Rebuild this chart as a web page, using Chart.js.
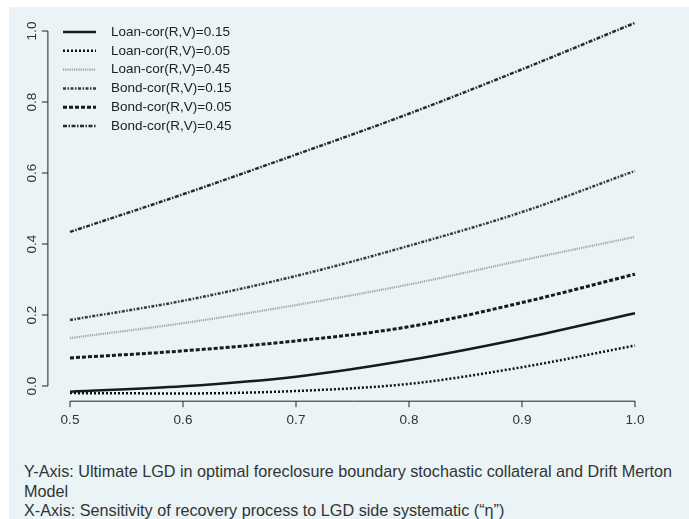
<!DOCTYPE html>
<html>
<head>
<meta charset="utf-8">
<script src="https://cdn.jsdelivr.net/npm/chart.js@4"></script>
<style>
  html, body { margin: 0; padding: 0; background: #fff; }
  #panel { position: absolute; left: 9px; top: 7px; width: 680px; height: 512px; background: #eaf3f5; }
  #wrap { position: absolute; left: 0; top: 0; width: 689px; height: 440px; }
  .cap { position: absolute; left: 24px; font-family: "Liberation Sans", Arial, sans-serif; font-size: 16.2px; line-height: 20px; color: #333; white-space: nowrap; }
</style>
</head>
<body>
<div id="panel"></div>
<div id="wrap"><canvas id="lgdChart" width="689" height="440"></canvas></div>
<div class="cap" style="top:461px">Y-Axis: Ultimate LGD in optimal foreclosure boundary stochastic collateral and Drift Merton</div>
<div class="cap" style="top:481px">Model</div>
<div class="cap" style="top:500px">X-Axis: Sensitivity of recovery process to LGD side systematic (“η”)</div>
<script>
const etaValues = [0.5, 0.6, 0.7, 0.8, 0.9, 1.0];
const seriesNames = ['Loan-cor(R,V)=0.15', 'Loan-cor(R,V)=0.05', 'Loan-cor(R,V)=0.45',
                     'Bond-cor(R,V)=0.15', 'Bond-cor(R,V)=0.05', 'Bond-cor(R,V)=0.45'];
const loan015 = [-0.016, -0.001, 0.026, 0.073, 0.134, 0.205];
const loan005 = [-0.020, -0.021, -0.014, 0.006, 0.053, 0.114];
const loan045 = [0.135, 0.177, 0.228, 0.286, 0.354, 0.420];
const bond015 = [0.186, 0.240, 0.310, 0.395, 0.490, 0.606];
const bond005 = [0.079, 0.099, 0.127, 0.167, 0.235, 0.315];
const bond045 = [0.434, 0.540, 0.652, 0.767, 0.892, 1.023];
const xTicks = [0.5, 0.6, 0.7, 0.8, 0.9, 1.0];
const yTicks = [0.0, 0.2, 0.4, 0.6, 0.8, 1.0];

const styles = [
  { color: '#1a1a1a', width: 2.5, dash: [] },
  { color: '#111111', width: 2.5, dash: [2, 2] },
  { color: '#a4a4a4', width: 2.2, dash: [1.2, 1] },
  { color: '#3a3a3a', width: 2.5, dash: [3, 1.5, 1.5, 1.5] },
  { color: '#1a1a1a', width: 3, dash: [4, 2] },
  { color: '#2a2a2a', width: 2.5, dash: [4, 1.5, 1.5, 1.5] }
];
const seriesValues = [loan015, loan005, loan045, bond015, bond005, bond045];

const fontFamily = '"Liberation Sans", Arial, sans-serif';

const datasets = seriesValues.map((vals, i) => ({
  label: seriesNames[i],
  data: etaValues.map((x, j) => ({ x: x, y: vals[j] })),
  borderColor: styles[i].color,
  borderWidth: styles[i].width,
  borderDash: styles[i].dash,
  borderCapStyle: 'butt',
  pointRadius: 0,
  fill: false,
  cubicInterpolationMode: 'monotone'
}));

// R-style axes, rotated y labels and line legend
const rAxes = {
  id: 'rAxes',
  afterDraw(chart) {
    const c = chart.ctx;
    const xs = chart.scales.x, ys = chart.scales.y;
    const area = chart.chartArea;
    c.save();
    c.strokeStyle = '#222';
    c.lineWidth = 1;
    c.fillStyle = '#333';
    c.font = '13.5px ' + fontFamily;

    // y axis
    const yx = area.left + 0.5;
    c.beginPath();
    c.moveTo(yx, ys.getPixelForValue(yTicks[0]));
    c.lineTo(yx, ys.getPixelForValue(yTicks[yTicks.length - 1]));
    yTicks.forEach(v => {
      const py = ys.getPixelForValue(v);
      c.moveTo(yx, py);
      c.lineTo(yx - 6, py);
    });
    c.stroke();
    c.textAlign = 'center';
    c.textBaseline = 'middle';
    yTicks.forEach(v => {
      const py = ys.getPixelForValue(v);
      c.save();
      c.translate(area.left - 15, py);
      c.rotate(-Math.PI / 2);
      c.fillText(v.toFixed(1), 0, 0);
      c.restore();
    });

    // x axis
    const xy = area.bottom + 0.5;
    c.beginPath();
    c.moveTo(xs.getPixelForValue(xTicks[0]), xy);
    c.lineTo(xs.getPixelForValue(xTicks[xTicks.length - 1]), xy);
    xTicks.forEach(v => {
      const px = xs.getPixelForValue(v);
      c.moveTo(px, xy);
      c.lineTo(px, xy + 6);
    });
    c.stroke();
    c.textBaseline = 'top';
    xTicks.forEach(v => {
      c.fillText(v.toFixed(1), xs.getPixelForValue(v), xy + 12);
    });

    // legend
    c.textAlign = 'left';
    c.textBaseline = 'middle';
    chart.data.datasets.forEach((ds, i) => {
      const ly = 32 + i * 18.8;
      c.save();
      c.strokeStyle = ds.borderColor;
      c.lineWidth = ds.borderWidth;
      c.setLineDash(ds.borderDash);
      c.lineCap = 'butt';
      c.beginPath();
      c.moveTo(63, ly);
      c.lineTo(96, ly);
      c.stroke();
      c.restore();
      c.fillStyle = '#222';
      c.fillText(ds.label, 111, ly);
    });
    c.restore();
  }
};

const ctx = document.getElementById('lgdChart').getContext('2d');
new Chart(ctx, {
  type: 'line',
  data: { datasets: datasets },
  options: {
    responsive: false,
    animation: false,
    layout: { padding: { left: 47.4, right: 31.4, top: 9.7, bottom: 39.3 } },
    plugins: { legend: { display: false }, tooltip: { enabled: false } },
    scales: {
      x: { type: 'linear', min: 0.48, max: 1.02, display: false },
      y: { type: 'linear', min: -0.0414, max: 1.06, display: false }
    }
  },
  plugins: [rAxes]
});
</script>
</body>
</html>
